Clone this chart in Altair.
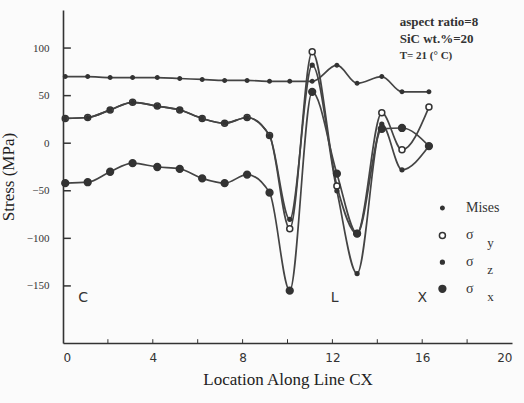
import altair as alt
import pandas as pd

# ---- data ----
x_pos = [0.1, 1.1, 2.1, 3.1, 4.2, 5.2, 6.2, 7.2, 8.2, 9.2, 10.1, 11.1, 12.2, 13.1, 14.2, 15.1, 16.3]
mises = [70, 70, 69, 69, 69, 68, 67, 66, 66, 65, 65, 65, 82, 63, 70, 54, 54]
sigma_y = [26, 27, 35, 43, 39, 35, 26, 21, 27, 8, -90, 96, -45, -95, 32, -7, 38]
sigma_z = [26, 27, 35, 43, 39, 35, 26, 21, 27, 8, -80, 82, -50, -137, 20, -28, -3]
sigma_x = [-42, -41, -30, -21, -25, -27, -37, -42, -33, -52, -155, 54, -32, -95, 15, 16, -3]

series_names = ["Mises", "sigma_y", "sigma_z", "sigma_x"]
y_ticks = [-150, -100, -50, 0, 50, 100]
x_ticks = [0, 4, 8, 12, 16, 20]
x_minor = [2, 4, 6, 8, 10, 12, 14, 16, 18]

notes = ["aspect  ratio=8", "SiC  wt.%=20", "T= 21 (° C)"]
notes_x = [15.0, 15.0, 15.0]
notes_y = [127, 110, 92]
notes_size = [13, 13, 11]

region_labels = ["C", "L", "X"]
region_x = [0.9, 12.1, 16.0]
region_y = [-163, -163, -163]

legend_sym = ["Mises", "sigma_y", "sigma_z", "sigma_x"]
legend_main = ["Mises", "σ", "σ", "σ"]
legend_sub = ["", "y", "z", "x"]
legend_yv = [-68, -97, -125, -153]

# ---- marker style per series ----
ink = "#333333"
style_size = {"Mises": 12, "sigma_y": 36, "sigma_z": 14, "sigma_x": 46}
style_fill = {"Mises": ink, "sigma_y": "white", "sigma_z": ink, "sigma_x": ink}

rows = []
for name, vals in zip(series_names, [mises, sigma_y, sigma_z, sigma_x]):
    for i, (xv, yv) in enumerate(zip(x_pos, vals)):
        rows.append({"series": name, "x": xv, "y": yv, "order": i,
                     "msize": style_size[name], "mfill": style_fill[name]})
df = pd.DataFrame(rows)

serif = "Liberation Serif"

xs = alt.Scale(domain=[0, 20], nice=False, zero=False)
ys = alt.Scale(domain=[-210, 140], nice=False, zero=False)

base = alt.Chart(df)

lines = base.mark_line(interpolate="monotone", strokeWidth=1.7, color="#444444").encode(
    x=alt.X("x:Q", scale=xs,
            axis=alt.Axis(values=x_ticks, title="Location Along Line CX", grid=False, ticks=False,
                          domainColor=ink, domainWidth=1.6, labelFont="DejaVu Sans", labelFontSize=12,
                          labelColor=ink, labelPadding=9, titleFont=serif, titleFontSize=17,
                          titleColor="#222", titlePadding=8, titleFontWeight="normal")),
    y=alt.Y("y:Q", scale=ys,
            axis=alt.Axis(values=y_ticks, title="Stress  (MPa)", grid=False, ticks=False,
                          domainColor=ink, domainWidth=1.6, labelFont=serif, labelFontSize=11,
                          labelColor=ink, labelPadding=14, titleFont=serif, titleFontSize=17,
                          titleColor="#222", titlePadding=9, titleFontWeight="normal")),
    detail="series:N",
    order="order:Q",
)

points = base.mark_point(filled=False, strokeWidth=1.5, opacity=1, shape="circle").encode(
    x=alt.X("x:Q", scale=xs),
    y=alt.Y("y:Q", scale=ys),
    size=alt.Size("msize:Q", scale=None, legend=None),
    fill=alt.Fill("mfill:N", scale=None, legend=None),
    stroke=alt.value(ink),
)

# inward ticks on y axis
ytick_df = pd.DataFrame({"v": y_ticks, "x0": [0] * len(y_ticks), "x1": [0.35] * len(y_ticks)})
yticks = alt.Chart(ytick_df).mark_rule(color=ink, strokeWidth=1.5).encode(
    y=alt.Y("v:Q", scale=ys), x=alt.X("x0:Q", scale=xs), x2="x1:Q")

xtick_df = pd.DataFrame({"v": x_minor, "y0": [-210] * len(x_minor), "y1": [-206] * len(x_minor)})
xticks = alt.Chart(xtick_df).mark_rule(color=ink, strokeWidth=1).encode(
    x=alt.X("v:Q", scale=xs), y=alt.Y("y0:Q", scale=ys), y2="y1:Q")

notes_df = pd.DataFrame({"t": notes, "x": notes_x, "y": notes_y, "s": notes_size})
notes_layer = alt.Chart(notes_df).mark_text(align="left", baseline="middle", font=serif,
                                            fontWeight="bold", color="#333").encode(
    x=alt.X("x:Q", scale=xs), y=alt.Y("y:Q", scale=ys), text="t:N",
    size=alt.Size("s:Q", scale=None, legend=None))

reg_df = pd.DataFrame({"t": region_labels, "x": region_x, "y": region_y})
reg_layer = alt.Chart(reg_df).mark_text(align="center", baseline="middle", font="DejaVu Sans",
                                        fontSize=14, color="#333").encode(
    x=alt.X("x:Q", scale=xs), y=alt.Y("y:Q", scale=ys), text="t:N")

leg_df = pd.DataFrame({"series": legend_sym, "main": legend_main, "sub": legend_sub,
                       "y": legend_yv, "xs": [16.9] * 4, "xt": [17.95] * 4, "xsub": [18.9] * 4,
                       "msize": [style_size[s] for s in legend_sym],
                       "mfill": [style_fill[s] for s in legend_sym]})
leg_pts = alt.Chart(leg_df).mark_point(filled=False, strokeWidth=1.5, opacity=1, shape="circle").encode(
    x=alt.X("xs:Q", scale=xs), y=alt.Y("y:Q", scale=ys),
    size=alt.Size("msize:Q", scale=None, legend=None),
    fill=alt.Fill("mfill:N", scale=None, legend=None),
    stroke=alt.value(ink))
leg_txt = alt.Chart(leg_df).mark_text(align="left", baseline="middle", font=serif, fontSize=14,
                                      color="#333").encode(
    x=alt.X("xt:Q", scale=xs), y=alt.Y("y:Q", scale=ys), text="main:N")
leg_sub = alt.Chart(leg_df).mark_text(align="left", baseline="middle", font=serif, fontSize=13,
                                      color="#333", dy=8).encode(
    x=alt.X("xsub:Q", scale=xs), y=alt.Y("y:Q", scale=ys), text="sub:N")

chart = alt.layer(lines, points, yticks, xticks, notes_layer, reg_layer, leg_pts, leg_txt, leg_sub).properties(
    width=449, height=333,
    autosize=alt.AutoSizeParams(type="none"),
    padding={"left": 63, "top": 10, "right": 12, "bottom": 60},
    background="#fbfbfb",
).configure_view(stroke=None)

chart.save("out.html", embed_options={"renderer": "svg", "actions": False})
